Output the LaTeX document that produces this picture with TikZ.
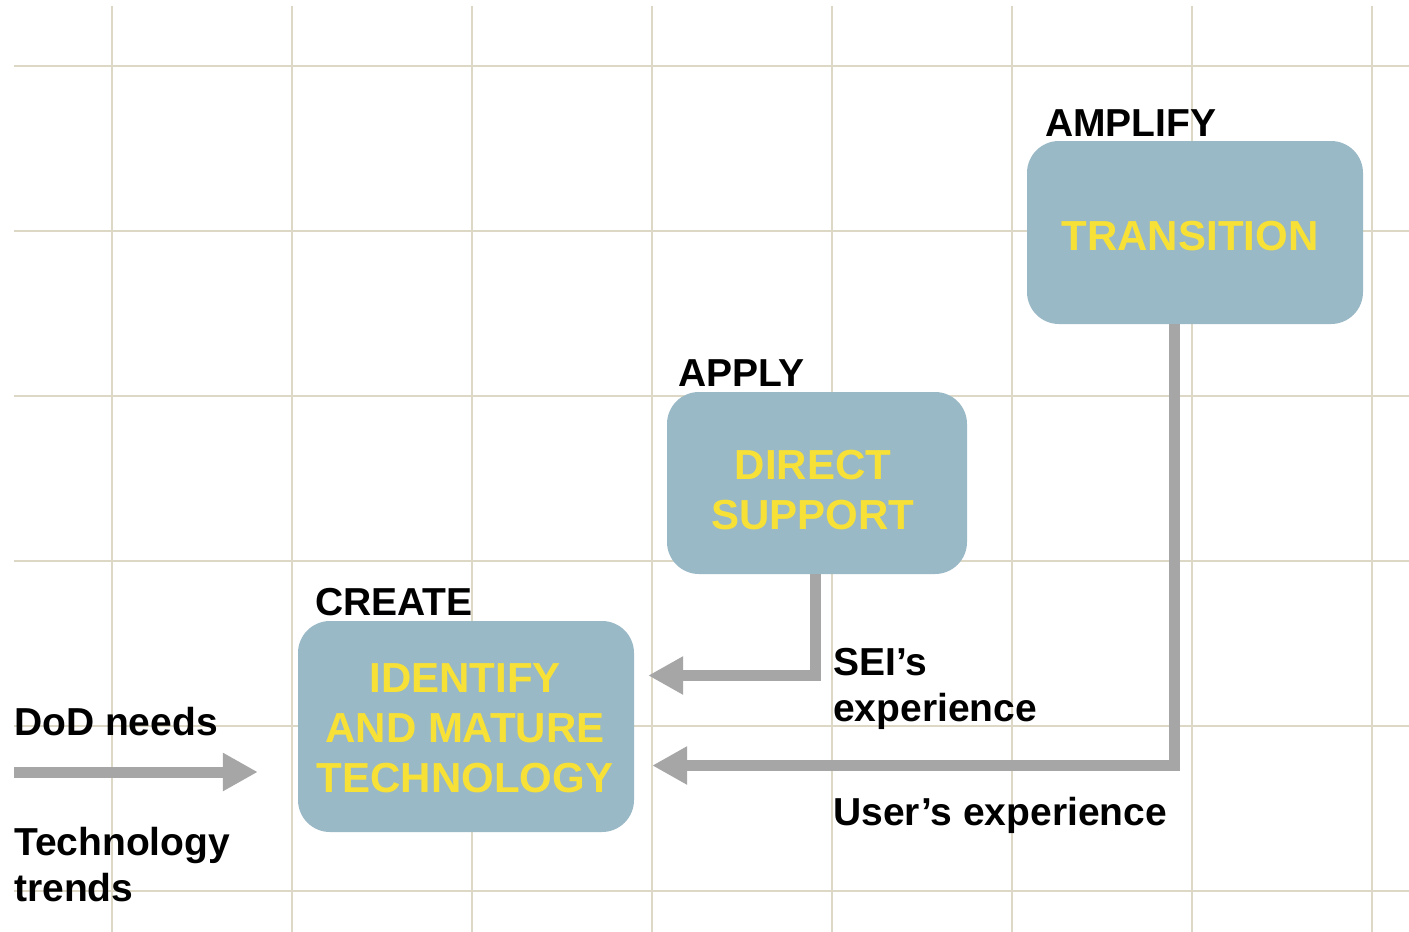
\documentclass[tikz,border=0pt]{standalone}
\usepackage{fontspec}
\setmainfont{Liberation Sans}
\usetikzlibrary{arrows.meta}
\definecolor{gridc}{HTML}{DDD8C5}
\definecolor{boxc}{HTML}{99B9C6}
\definecolor{txty}{HTML}{F8E136}
\definecolor{arrc}{HTML}{A6A6A6}
\begin{document}
\begin{tikzpicture}[x=1pt,y=-1pt,
  gridline/.style={draw=gridc,line width=2pt},
  box/.style={rectangle,fill=boxc,rounded corners=32pt,inner sep=0pt},
  boxtext/.style={text=txty,font=\fontsize{42}{50}\selectfont\bfseries,align=center,inner sep=0pt},
  lbl/.style={font=\fontsize{39}{46}\selectfont\bfseries,align=left,inner sep=0pt,anchor=base west},
  conn/.style={draw=arrc,line width=11pt,-{Triangle[length=35pt,width=36pt]}}]
\useasboundingbox[fill=white] (0,0) rectangle (1409,932);
\foreach \x in {112,292,...,1372} \draw[gridline] (\x,6) -- (\x,932);
\foreach \y in {66,231,...,891} \draw[gridline] (14,\y) -- (1409,\y);
% boxes
\node[box,minimum width=336pt,minimum height=183pt] (tr) at (1195,232.5) {};
\node[box,minimum width=300pt,minimum height=182pt] (ds) at (817,483) {};
\node[box,minimum width=336pt,minimum height=211pt] (cr) at (466,726.5) {};
% box texts
\node[boxtext] (trt) at ([xshift=-5pt,yshift=-3.5pt]tr.center) {TRANSITION};
\node[boxtext] (dst) at ([xshift=-4pt,yshift=-6.7pt]ds.center) {DIRECT\\SUPPORT};
\node[boxtext] (crt) at ([xshift=-1pt,yshift=-1.5pt]cr.center) {IDENTIFY\\AND MATURE\\TECHNOLOGY};
% labels (anchor is baseline of the last line)
\node[lbl] (amp) at (1045,136) {AMPLIFY};
\node[lbl] (app) at (678,386) {APPLY};
\node[lbl] (cre) at (315,615) {CREATE};
\node[lbl] (sei) at (833,721) {SEI’s\\experience};
\node[lbl] (usr) at (833,825) {User’s experience};
\node[lbl] (dod) at (14,735) {DoD needs};
\node[lbl] (tech) at (14,901.5) {Technology\\trends};
% connectors
\draw[conn] ([xshift=-1.5pt]ds.south) |- ([xshift=14pt,yshift=51pt]cr.east);
\draw[conn] ([xshift=-20.5pt]tr.south) |- ([xshift=18pt,yshift=-39pt]cr.east);
\coordinate (dodstart) at (14,772);
\path (cr.west |- dodstart) ++(-40,0) coordinate (dodend);
\draw[conn] (dodstart) -- (dodend);
\end{tikzpicture}
\end{document}
